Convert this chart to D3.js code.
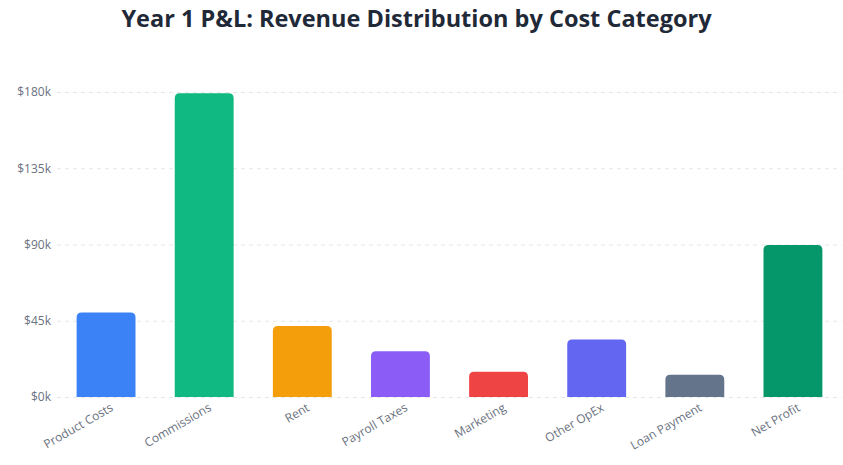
<!DOCTYPE html>
<html>
<head>
<meta charset="utf-8">
<script src="https://cdn.jsdelivr.net/npm/d3@7"></script>
<style>
  body { margin: 0; background: #fff; font-family: "Open Sans", "Noto Sans", sans-serif; }
</style>
</head>
<body>
<svg id="chart" width="843" height="465"></svg>
<script>
const categories = ["Product Costs", "Commissions", "Rent", "Payroll Taxes", "Marketing", "Other OpEx", "Loan Payment", "Net Profit"];
const values = [49800, 179300, 41900, 27000, 14900, 34000, 13200, 89700];
const barColors = ["#3b82f6", "#10b981", "#f59e0b", "#8b5cf6", "#ef4444", "#6366f1", "#64748b", "#059669"];
const yTicks = [0, 45000, 90000, 135000, 180000];

const svg = d3.select("#chart");
const width = +svg.attr("width");
const height = +svg.attr("height");
const margin = { top: 92, right: 1, bottom: 68, left: 57 };

const x = d3.scaleBand().domain(categories).range([margin.left, width - margin.right]).paddingInner(0.4).paddingOuter(0.2);
const y = d3.scaleLinear().domain([0, 180000]).range([height - margin.bottom, margin.top]);

// title
svg.append("text")
  .attr("x", width / 2 - 5)
  .attr("y", 27)
  .attr("text-anchor", "middle")
  .attr("font-size", 23.5)
  .attr("font-weight", "bold")
  .attr("fill", "#1f2937")
  .text("Year 1 P&L: Revenue Distribution by Cost Category");

// grid + y labels
const yAxis = svg.append("g")
  .attr("transform", `translate(${margin.left},0)`)
  .call(d3.axisLeft(y).tickValues(yTicks).tickSize(-(width - margin.left - margin.right)).tickPadding(6)
    .tickFormat(d => `$${d / 1000}k`));
yAxis.select(".domain").remove();
yAxis.selectAll(".tick line").attr("stroke", "#e5e7eb").attr("stroke-dasharray", "4,4");
yAxis.selectAll(".tick text").attr("fill", "#6b7280").attr("font-size", 12).attr("font-family", "Open Sans, sans-serif");

// bars, rounded top corners
const r = 5;
svg.append("g").selectAll("path")
  .data(categories)
  .join("path")
  .attr("fill", (d, i) => barColors[i])
  .attr("d", (d, i) => {
    const x0 = x(d), w = x.bandwidth(), y0 = y(values[i]), yb = y(0);
    return `M${x0},${yb} L${x0},${y0 + r} Q${x0},${y0} ${x0 + r},${y0} L${x0 + w - r},${y0} Q${x0 + w},${y0} ${x0 + w},${y0 + r} L${x0 + w},${yb} Z`;
  });

// x labels
svg.append("g").selectAll("text")
  .data(categories)
  .join("text")
  .attr("transform", d => `translate(${x(d) + x.bandwidth() / 2 + 8},${y(0) + 13}) rotate(-30)`)
  .attr("text-anchor", "end")
  .attr("font-size", 12)
  .attr("fill", "#6b7280")
  .text(d => d);
</script>
</body>
</html>
